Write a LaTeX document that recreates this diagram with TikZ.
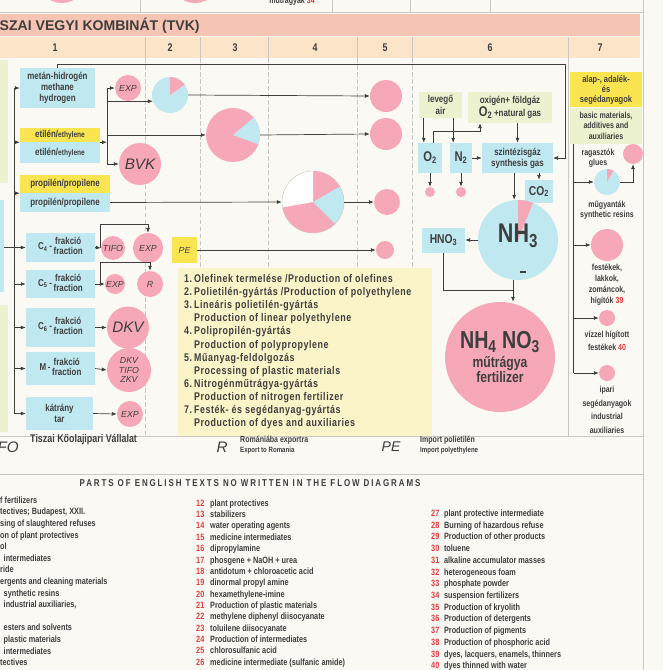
\documentclass[tikz,border=0pt]{standalone}
\usepackage{fontspec}
\setmainfont{Liberation Sans}[UprightFont=* Bold, FakeStretch=0.8]
\newfontfamily\labelfont{Liberation Sans}
\newfontfamily\titlefont{Liberation Sans Bold}
\usetikzlibrary{arrows.meta, positioning, calc}

\definecolor{ink}{RGB}{62,62,62}
\definecolor{pinkc}{RGB}{247,168,184}
\definecolor{lblue}{RGB}{192,232,240}
\definecolor{yell}{RGB}{250,228,80}
\definecolor{pgreen}{RGB}{236,242,208}
\definecolor{pyell}{RGB}{250,244,200}
\definecolor{titleband}{RGB}{246,196,178}
\definecolor{headband}{RGB}{251,228,200}
\definecolor{paper}{RGB}{250,249,243}
\definecolor{redn}{RGB}{232,60,60}
\definecolor{rule}{RGB}{200,200,195}

% pie slice: colour, node, start, end, radius
\newcommand\slice[5]{\fill[#1] (#2.center) -- ++(#3:#5) arc[start angle=#3, end angle=#4, radius=#5] -- cycle;}
\newcommand\frakc[1]{#1\,-\,\begin{tabular}{@{}c@{}}frakció\\[-1pt]fraction\end{tabular}}

\begin{document}
\begin{tikzpicture}[
    x=0.03cm, y=-0.03cm,
    font=\fontsize{8.5}{9.5}\selectfont, text=ink,
    box/.style={fill=lblue, align=center, inner sep=0pt},
    sz/.style 2 args={minimum width=#1*0.03cm, minimum height=#2*0.03cm},
    disc/.style={circle, fill=pinkc, inner sep=0pt, minimum size=#1*0.06cm},
    tag/.style={font=\labelfont\itshape\fontsize{7.5}{8}\selectfont},
    bigtag/.style={font=\labelfont\itshape\fontsize{13}{14}\selectfont},
    arrow/.style={-{Latex[length=1.5mm,width=1.2mm]}, line width=0.6pt, draw=ink},
    line/.style={line width=0.6pt, draw=ink},
    divider/.style={draw=rule, line width=0.5pt, dash pattern=on 4pt off 2pt}
]

% paper and frame
\fill[paper] (0,0) rectangle (663,670);
\useasboundingbox (0,0) rectangle (663,670);

% previous section, cut off
\node[disc=25] (topa) at (62,-22) {};
\node[disc=25] (topb) at (195,-22) {};
\node[anchor=base, font=\fontsize{7.5}{8}\selectfont] (toptext) at (292,3) {műtrágyák \textcolor{redn}{34}};
\draw[rule] (0,12) -- (643,12);
\foreach \x in {140,332,410,490} \draw[rule] (\x,0) -- (\x,12);

% title and column numbers
\fill[titleband] (0,14) rectangle (640,36);
\node[anchor=west, inner sep=0pt, font=\titlefont\fontsize{12}{14}\selectfont] (tvk) at (-13,25.5) {TISZAI VEGYI KOMBINÁT (TVK)};
\fill[headband] (0,37) rectangle (640,58);
\foreach \x/\n in {55/1,170/2,235/3,315/4,385/5,490/6,600/7}
  \node[font=\fontsize{9.5}{10}\selectfont] (col\n) at (\x,47.5) {\n};
\foreach \x in {145,200,268,357,412} {
  \draw[rule] (\x,37) -- (\x,58);
  \draw[divider] (\x,58) -- (\x,436);
}
\draw[rule] (568,37) -- (568,436);
\draw[rule] (643,0) -- (643,670);
\draw[rule] (0,436) -- (643,436);
\draw[rule] (0,474) -- (643,474);

% boxes at the left edge, cut off
\fill[pgreen] (-10,60) rectangle (8,183);
\fill[lblue] (-10,200) rectangle (4,292);
\fill[pgreen] (-10,305) rectangle (8,432);

% column 1: feedstocks
\node[box, sz={75}{40}] (metan) at (57.5,88) {metán-hidrogén\\methane\\hydrogen};
\node[box, fill=yell, sz={80}{14}] (etilY) at (60,135) {etilén/{\fontsize{7}{7}\selectfont ethylene}};
\node[box, sz={80}{21}] (etilB) at (60,152.5) {etilén/{\fontsize{7}{7}\selectfont ethylene}};
\node[box, fill=yell, sz={90}{18}] (propY) at (65,184) {propilén/propilene};
\node[box, sz={90}{19}] (propB) at (65,202.5) {propilén/propilene};
\node[box, sz={69}{29}] (c4) at (60.5,247.5) {\frakc{C\textsubscript{4}}};
\node[box, sz={69}{28}] (c5) at (60.5,284) {\frakc{C\textsubscript{5}}};
\node[box, sz={69}{39}] (c6) at (60.5,327.5) {\frakc{C\textsubscript{6}}};
\node[box, sz={69}{33}] (mfr) at (60.5,368.5) {\frakc{M}};
\node[box, sz={67}{33}] (katrany) at (59.5,413.5) {kátrány\\tar};

% feed bus
\coordinate (bus) at (14,88);
\draw[line] (bus) -- (bus |- katrany.west);
\draw[line] (4,247.5) -- (bus |- c4.west);
\foreach \b in {metan.west, etilY.south west, propY.south west, c4.west, c5.west, c6.west, mfr.west, katrany.west}
  \draw[arrow] (bus |- \b) -- (\b);

% columns 1-5: products
\node[disc=13, tag] (exp1) at (128,88) {EXP};
\node[disc=21, bigtag] (bvk) at (140,164) {BVK};
\node[disc=18, fill=lblue] (pie2) at (170,95) {};
\slice{pinkc}{pie2}{35}{90}{0.54cm}
\node[disc=27] (pie3) at (233,135) {};
\slice{lblue}{pie3}{-20}{40}{0.81cm}
\node[disc=31] (pie4) at (313,202) {};
\slice{white}{pie4}{90}{190}{0.93cm}
\slice{lblue}{pie4}{-45}{30}{0.93cm}
\node[disc=31, fill=none, draw=rule, line width=0.3pt] (pie4rim) at (pie4) {};
\node[disc=16] (out1) at (386,96) {};
\node[disc=16] (out2) at (386,134) {};
\node[disc=13] (out3) at (387,202) {};
\node[disc=9] (out4) at (385,250) {};
\node[fill=yell, sz={25}{26}, tag, inner sep=0pt] (pe) at (184.5,250) {PE};

\coordinate (ej) at (107,88);
\draw[line] (ej) -- (ej |- bvk);
\draw[arrow] (etilY.south east) -- (ej |- etilY.south east);
\draw[arrow] (ej |- exp1) -- (exp1.west);
\draw[arrow] (ej |- pie2.200) -- (pie2.200);
\draw[arrow] (ej |- pie3.west) -- (pie3.west);
\draw[arrow] (ej |- bvk) -- (bvk.west);
\draw[arrow] (pie2.east) -- (out1.west);
\draw[arrow] (pie3.east) -- (out2.west);
\draw[arrow] (propB.east) -- (pie4.west);
\draw[arrow] (pie4.east) -- (out3.west);
\draw[arrow] (pe.east) -- (out4.west);
\draw[arrow] (metan.north) |- (565,64) |- (553,158);

\node[disc=12, tag] (tifo) at (113,248) {TIFO};
\node[disc=15, tag] (exp2) at (148,248) {EXP};
\node[disc=10, tag] (exp3) at (115,284) {EXP};
\node[disc=13, tag] (rom) at (150,284) {R};
\node[disc=21, bigtag] (dkv) at (128,327.5) {DKV};
\node[disc=22, align=center, font=\labelfont\itshape\fontsize{7.5}{8}\selectfont] (dtz) at (129,370) {DKV\\TIFO\\ZKV};
\node[disc=13, tag] (exp4) at (130,414) {EXP};

\draw[arrow] (c4.east) -- (tifo.west);
\draw[arrow] ($(c4.east)+(5,0)$) |- ($(exp2.north)+(0,-8)$) -- (exp2.north);
\draw[arrow] (c5.east) -- (exp3.west);
\draw[arrow] ($(c5.east)+(5,0)$) |- ($(rom.north)+(0,-8)$) -- (rom.north);
\draw[arrow] (c6.east) -- (dkv.west);
\draw[arrow] (mfr.east) -- (dtz.west);
\draw[arrow] (katrany.east) -- (exp4.west);

% legend of the columns
\node[fill=pyell, anchor=north west, sz={254}{168}, inner sep=0pt] (legend) at (178,268) {};
\node[anchor=north west, inner sep=0pt, font=\fontsize{9.5}{11.2}\selectfont\addfontfeatures{LetterSpace=5}] (legtext) at (184,273) {%
  \begin{tabular}{@{}r@{\,}l@{}}
  1. & Olefinek termelése /Production of olefines\\
  2. & Polietilén-gyártás /Production of polyethylene\\
  3. & Lineáris polietilén-gyártás\\
     & Production of linear polyethylene\\
  4. & Polipropilén-gyártás\\
     & Production of polypropylene\\
  5. & Műanyag-feldolgozás\\
     & Processing of plastic materials\\
  6. & Nitrogénműtrágya-gyártás\\
     & Production of nitrogen fertilizer\\
  7. & Festék- és segédanyag-gyártás\\
     & Production of dyes and auxiliaries
  \end{tabular}};

% column 6: nitrogen fertilizer
\node[fill=pgreen, align=center, sz={43}{26}, inner sep=0pt] (levego) at (440.5,105) {levegő\\air};
\node[fill=pgreen, align=center, sz={84}{31}, inner sep=0pt] (oxigen) at (510,107.5) {oxigén+ földgáz\\{\fontsize{12}{12}\selectfont O\textsubscript{2}}\,+natural gas};
\node[box, sz={24}{30}, font=\fontsize{12}{12}\selectfont] (o2) at (430,158) {O\textsubscript{2}};
\node[box, sz={22}{30}, font=\fontsize{12}{12}\selectfont] (n2) at (461,158) {N\textsubscript{2}};
\node[box, sz={71}{30}] (szint) at (517.5,158) {szintézisgáz\\synthesis gas};
\node[box, sz={28}{23}, font=\fontsize{11}{11}\selectfont] (co2) at (539,191.5) {CO\textsubscript{2}};
\node[disc=5] (o2c) at (430,192) {};
\node[disc=5] (n2c) at (461,192) {};
\node[disc=40, fill=lblue] (nh3) at (518,240) {};
\slice{pinkc}{nh3}{68}{90}{1.2cm}
\node[font=\fontsize{23}{24}\selectfont] (nh3txt) at (518,236) {NH\textsubscript{3}};
\node[fill=ink, minimum width=0.16cm, minimum height=0.07cm, inner sep=0pt] (nh3mark) at (523,272) {};
\node[box, sz={43}{25}, font=\fontsize{11}{11}\selectfont] (hno3) at (443.5,240) {HNO\textsubscript{3}};
\node[disc=55, align=center] (nh4) at (500,357) {{\fontsize{21}{22}\selectfont NH\textsubscript{4} NO\textsubscript{3}}\\[2pt]{\fontsize{13}{13}\selectfont műtrágya}\\{\fontsize{13}{13}\selectfont fertilizer}};

\draw[arrow] ([xshift=0.15cm]levego.south west) -- ([xshift=0.15cm]levego.south west |- o2.north);
\draw[arrow] ([xshift=-0.27cm]levego.south east) -- ([xshift=-0.27cm]levego.south east |- n2.north);
\draw[arrow] ([xshift=0.09cm]o2.north) -- ++(0,-11) -| ([xshift=-0.9cm]oxigen.south);
\draw[arrow] (oxigen.south -| szint.north) -- (szint.north);
\draw[arrow] (n2.east) -- (szint.west);
\draw[arrow] (co2.north |- szint.south) -- (co2.north);
\draw[arrow] ([xshift=-0.1cm]szint.south) -- ([xshift=-0.1cm]szint.south |- nh3.north);
\draw[arrow] (o2.south) -- (o2c.north);
\draw[arrow] (n2.south) -- (n2c.north);
\draw[arrow] (nh3.west) -- (hno3.east);
\coordinate (nj) at (513,290);
\draw[line] (hno3.south) |- (nj);
\draw[arrow] (nj |- nh3.south) -- (nj |- nh4.north);

% column 7: dyes and auxiliaries
\node[fill=yell, anchor=north, sz={72}{35}, inner sep=0pt, align=center, font=\fontsize{8}{8.5}\selectfont] (alap) at (606,72) {alap-, adalék-\\és\\segédanyagok};
\node[fill=pgreen, anchor=north, sz={72}{36}, inner sep=0pt, align=center, font=\fontsize{7.5}{8.8}\selectfont] (basic) at (alap.south) {basic materials,\\additives and\\auxiliaries};
\node[disc=13, fill=lblue] (pie7) at (607,182) {};
\slice{pinkc}{pie7}{60}{90}{0.39cm}
\node[disc=10] (glue) at (633,154) {};
\node[disc=16] (dye) at (607,245) {};
\node[disc=8] (wdye) at (607,318) {};
\node[disc=8] (ind) at (607,373) {};
\node[align=center, font=\fontsize{7.5}{9}\selectfont] (gluetxt) at (598,158) {ragasztók\\glues};
\node[align=center, font=\fontsize{7.5}{9}\selectfont] (resintxt) at (607,210) {műgyanták\\synthetic resins};
\node[align=center, font=\fontsize{7.5}{9.5}\selectfont] (dyetxt) at (607,285) {festékek,\\lakkok,\\zománcok,\\hígítók \textcolor{redn}{39}};
\node[align=center, font=\fontsize{7.5}{11}\selectfont] (wdyetxt) at (607,341) {vízzel hígított\\festékek \textcolor{redn}{40}};
\node[align=center, font=\fontsize{7.5}{11.5}\selectfont] (indtxt) at (607,410) {ipari\\segédanyagok\\industrial\\auxiliaries};

\coordinate (b7) at ([xshift=0.12cm]basic.south west);
\draw[line] (b7) -- (b7 |- ind.west);
\foreach \t in {pie7, dye, wdye, ind}
  \draw[arrow] (b7 |- \t.west) -- (\t.west);
\draw[arrow] (pie7.east) -| (glue.south);

% abbreviations
\node[anchor=east, inner sep=0pt, font=\labelfont\itshape\fontsize{13}{14}\selectfont] (abtifo) at (19,447) {TIFO};
\node[anchor=west, inner sep=0pt, font=\fontsize{9.5}{10}\selectfont] (abtifotxt) at (30,440) {Tiszai Kőolajipari Vállalat};
\node[inner sep=0pt, font=\labelfont\itshape\fontsize{13}{14}\selectfont] (abr) at (222,447) {R};
\node[anchor=west, inner sep=0pt, align=left, font=\fontsize{7.5}{9}\selectfont] (abrtxt) at (240,445) {Romániába exportra\\{\fontsize{6.5}{7}\selectfont Export to Romania}};
\node[inner sep=0pt, font=\labelfont\itshape\fontsize{12}{14}\selectfont] (abpe) at (391,447) {PE};
\node[anchor=west, inner sep=0pt, align=left, font=\fontsize{7.5}{9}\selectfont] (abpetxt) at (420,445) {Import polietilén\\{\fontsize{6.5}{7}\selectfont Import polyethylene}};

% English texts
\node[font=\fontsize{8.5}{9}\selectfont\addfontfeatures{LetterSpace=19}] (parts) at (250,483) {PARTS OF ENGLISH TEXTS NO WRITTEN IN THE FLOW DIAGRAMS};
\node[anchor=north west, inner sep=0pt, font=\fontsize{7.8}{9.9}\selectfont] (listA) at (0,495) {%
  \begin{tabular}{@{}l@{}}
  f fertilizers\\
  tectives; Budapest, XXII.\\
  sing of slaughtered refuses\\
  on of plant protectives\\
  ol\\
  \hspace*{3pt}intermediates\\
  ride\\
  ergents and cleaning materials\\
  \hspace*{3pt}synthetic resins\\
  \hspace*{3pt}industrial auxiliaries,\\
  \\
  \hspace*{3pt}esters and solvents\\
  \hspace*{3pt}plastic materials\\
  \hspace*{3pt}intermediates\\
  tectives
  \end{tabular}};
\node[anchor=north west, inner sep=0pt, font=\fontsize{7.8}{9.7}\selectfont] (listB) at (196,498) {%
  \begin{tabular}{@{}r@{\hspace{5pt}}l@{}}
  \textcolor{redn}{12} & plant protectives\\
  \textcolor{redn}{13} & stabilizers\\
  \textcolor{redn}{14} & water operating agents\\
  \textcolor{redn}{15} & medicine intermediates\\
  \textcolor{redn}{16} & dipropylamine\\
  \textcolor{redn}{17} & phosgene + NaOH + urea\\
  \textcolor{redn}{18} & antidotum + chloroacetic acid\\
  \textcolor{redn}{19} & dinormal propyl amine\\
  \textcolor{redn}{20} & hexamethylene-imine\\
  \textcolor{redn}{21} & Production of plastic materials\\
  \textcolor{redn}{22} & methylene diphenyl diisocyanate\\
  \textcolor{redn}{23} & toluilene diisocyanate\\
  \textcolor{redn}{24} & Production of intermediates\\
  \textcolor{redn}{25} & chlorosulfanic acid\\
  \textcolor{redn}{26} & medicine intermediate (sulfanic amide)
  \end{tabular}};
\node[anchor=north west, inner sep=0pt, font=\fontsize{7.8}{10}\selectfont] (listC) at (431,508) {%
  \begin{tabular}{@{}r@{\hspace{4pt}}l@{}}
  \textcolor{redn}{27} & plant protective intermediate\\
  \textcolor{redn}{28} & Burning of hazardous refuse\\
  \textcolor{redn}{29} & Production of other products\\
  \textcolor{redn}{30} & toluene\\
  \textcolor{redn}{31} & alkaline accumulator masses\\
  \textcolor{redn}{32} & heterogeneous foam\\
  \textcolor{redn}{33} & phosphate powder\\
  \textcolor{redn}{34} & suspension fertilizers\\
  \textcolor{redn}{35} & Production of kryolith\\
  \textcolor{redn}{36} & Production of detergents\\
  \textcolor{redn}{37} & Production of pigments\\
  \textcolor{redn}{38} & Production of phosphoric acid\\
  \textcolor{redn}{39} & dyes, lacquers, enamels, thinners\\
  \textcolor{redn}{40} & dyes thinned with water
  \end{tabular}};

\end{tikzpicture}
\end{document}
